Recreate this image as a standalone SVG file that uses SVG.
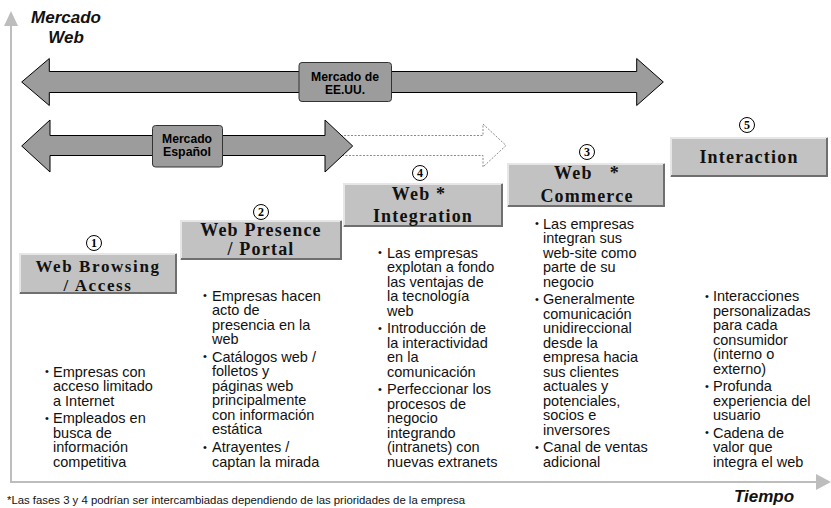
<svg xmlns="http://www.w3.org/2000/svg" width="831" height="508" viewBox="0 0 831 508">
<style>
.axis{stroke:#bdbdbd;stroke-width:2;fill:none}
.axh{fill:#bdbdbd}
.ttl{font-family:"Liberation Sans",Arial,sans-serif;font-weight:bold;font-style:italic;font-size:17px;fill:#111}
.arr{fill:#9c9c9c;stroke:#000;stroke-width:1}
.lbl{fill:#9c9c9c;stroke:#333;stroke-width:1}
.lt{font-family:"Liberation Sans",Arial,sans-serif;font-weight:bold;font-size:12px;fill:#000;text-anchor:middle}
.dot{fill:#fff;stroke:#8a8a8a;stroke-width:1;stroke-dasharray:2,1.5}
.bx{fill:#c2c2c2}
.hi{fill:none;stroke:#e6e6e6;stroke-width:2}
.sh{fill:none;stroke:#6f6f6f;stroke-width:2}
.bt{font-family:"Liberation Serif","Times New Roman",serif;font-weight:bold;font-size:18px;letter-spacing:1.2px;fill:#111;text-anchor:middle;white-space:pre}
.bt1{font-size:17px;letter-spacing:1.6px}
.nc{fill:#fff;stroke:#000;stroke-width:1}
.nt{font-family:"Liberation Serif","Times New Roman",serif;font-weight:bold;font-size:12px;fill:#000;text-anchor:middle}
.tx{font-family:"Liberation Sans",Arial,sans-serif;font-size:14.5px;fill:#111}
.bu{font-family:"Liberation Sans",Arial,sans-serif;font-size:11px;fill:#111}
.fn{font-family:"Liberation Sans",Arial,sans-serif;font-size:10.5px;fill:#111}
</style>

<g id="axes">
  <line class="axis" x1="11" y1="24" x2="11" y2="483"/>
  <polygon class="axh" points="11,11 4,26 18,26"/>
  <line class="axis" x1="10" y1="482" x2="816" y2="482"/>
  <polygon class="axh" points="816,474 831,482 816,490"/>
  <text class="ttl" x="66" y="23" text-anchor="middle">Mercado</text>
  <text class="ttl" x="66" y="43" text-anchor="middle">Web</text>
  <text class="ttl" x="764" y="502" text-anchor="middle">Tiempo</text>
</g>

<g id="connectors">
  <g id="arrow-usa">
    <polygon class="arr" points="21.7,82 49.3,58.5 49.3,71.5 636.7,71.5 636.7,58.5 663.3,82 636.7,105.5 636.7,92.5 49.3,92.5 49.3,105.5"/>
    <rect class="lbl" x="299" y="62.5" width="92.5" height="39" rx="3"/>
    <text class="lt" x="345" y="81" textLength="68" lengthAdjust="spacingAndGlyphs">Mercado de</text>
    <text class="lt" x="345" y="93.5">EE.UU.</text>
  </g>
  <g id="arrow-future">
    <polygon class="dot" points="330,135.5 483,135.5 483,124 506,145.5 483,167 483,155.5 330,155.5"/>
  </g>
  <g id="arrow-spain">
    <polygon class="arr" points="21.7,146 50,120 50,135.5 325,135.5 325,120 352.7,146 325,172 325,155.5 50,155.5 50,172"/>
    <rect class="lbl" x="152.5" y="125.5" width="70" height="41.5" rx="3"/>
    <text class="lt" x="187" y="143" textLength="50" lengthAdjust="spacingAndGlyphs">Mercado</text>
    <text class="lt" x="187" y="155.5" textLength="48" lengthAdjust="spacingAndGlyphs">Español</text>
  </g>
</g>

<g id="phase1">
  <circle class="nc" cx="94" cy="243" r="7.5"/>
  <text class="nt" x="94" y="247.3">1</text>
  <rect class="bx" x="19" y="253" width="158" height="41"/>
  <path class="hi" d="M20,293 V254 H176"/>
  <path class="sh" d="M20,293 H176 V254"/>
  <text class="bt bt1" x="98" y="271.5">Web Browsing</text>
  <text class="bt bt1" x="98" y="290.5">/ Access</text>
</g>

<g id="phase2">
  <circle class="nc" cx="261" cy="212" r="7.5"/>
  <text class="nt" x="261" y="216.3">2</text>
  <rect class="bx" x="180" y="220" width="162" height="40"/>
  <path class="hi" d="M181,259 V221 H341"/>
  <path class="sh" d="M181,259 H341 V221"/>
  <text class="bt" x="261" y="236">Web Presence</text>
  <text class="bt" x="261" y="255">/ Portal</text>
</g>

<g id="phase4">
  <circle class="nc" cx="420" cy="173" r="7.5"/>
  <text class="nt" x="420" y="177.3">4</text>
  <rect class="bx" x="343" y="183" width="160" height="44"/>
  <path class="hi" d="M344,226 V184 H502"/>
  <path class="sh" d="M344,226 H502 V184"/>
  <text class="bt" x="419" y="199.5">Web *</text>
  <text class="bt" x="423" y="222">Integration</text>
</g>

<g id="phase3">
  <circle class="nc" cx="587" cy="152" r="7.5"/>
  <text class="nt" x="587" y="156.3">3</text>
  <rect class="bx" x="507" y="163" width="158" height="44"/>
  <path class="hi" d="M508,206 V164 H664"/>
  <path class="sh" d="M508,206 H664 V164"/>
  <text class="bt" x="587" y="178.5">Web   *</text>
  <text class="bt" x="587" y="201.5">Commerce</text>
</g>

<g id="phase5">
  <circle class="nc" cx="747" cy="125" r="7.5"/>
  <text class="nt" x="747" y="129.3">5</text>
  <rect class="bx" x="670" y="137" width="158" height="40"/>
  <path class="hi" d="M671,176 V138 H827"/>
  <path class="sh" d="M671,176 H827 V138"/>
  <text class="bt" x="749" y="163">Interaction</text>
</g>

<g id="text-col1" class="tx">
  <text class="bu" x="45" y="375">•</text>
  <text x="53" y="376.5">Empresas con</text>
  <text x="53" y="391">acceso limitado</text>
  <text x="53" y="405.5">a Internet</text>
  <text class="bu" x="45" y="421.5">•</text>
  <text x="53" y="423">Empleados en</text>
  <text x="53" y="437.5">busca de</text>
  <text x="53" y="452">información</text>
  <text x="53" y="466.5">competitiva</text>
</g>

<g id="text-col2" class="tx">
  <text class="bu" x="203" y="299">•</text>
  <text x="212" y="300.5">Empresas hacen</text>
  <text x="212" y="315">acto de</text>
  <text x="212" y="329.5">presencia en la</text>
  <text x="212" y="344">web</text>
  <text class="bu" x="203" y="360">•</text>
  <text x="212" y="361.5">Catálogos web /</text>
  <text x="212" y="376">folletos y</text>
  <text x="212" y="390.5">páginas web</text>
  <text x="212" y="405">principalmente</text>
  <text x="212" y="419.5">con información</text>
  <text x="212" y="434">estática</text>
  <text class="bu" x="203" y="450.5">•</text>
  <text x="212" y="452">Atrayentes /</text>
  <text x="212" y="466.5">captan la mirada</text>
</g>

<g id="text-col3" class="tx">
  <text class="bu" x="378" y="256">•</text>
  <text x="387" y="257.5">Las empresas</text>
  <text x="387" y="272">explotan a fondo</text>
  <text x="387" y="286.5">las ventajas de</text>
  <text x="387" y="301">la tecnología</text>
  <text x="387" y="315.5">web</text>
  <text class="bu" x="378" y="331.5">•</text>
  <text x="387" y="333">Introducción de</text>
  <text x="387" y="347.5">la interactividad</text>
  <text x="387" y="362">en la</text>
  <text x="387" y="376.5">comunicación</text>
  <text class="bu" x="378" y="392.5">•</text>
  <text x="387" y="394">Perfeccionar los</text>
  <text x="387" y="408.5">procesos de</text>
  <text x="387" y="423">negocio</text>
  <text x="387" y="437.5">integrando</text>
  <text x="387" y="452">(intranets) con</text>
  <text x="387" y="466.5">nuevas extranets</text>
</g>

<g id="text-col4" class="tx">
  <text class="bu" x="535" y="227">•</text>
  <text x="543" y="228.5">Las empresas</text>
  <text x="543" y="243">integran sus</text>
  <text x="543" y="257.5">web-site como</text>
  <text x="543" y="272">parte de su</text>
  <text x="543" y="286.5">negocio</text>
  <text class="bu" x="535" y="302.5">•</text>
  <text x="543" y="304">Generalmente</text>
  <text x="543" y="318.5">comunicación</text>
  <text x="543" y="333">unidireccional</text>
  <text x="543" y="347.5">desde la</text>
  <text x="543" y="362">empresa hacia</text>
  <text x="543" y="376.5">sus clientes</text>
  <text x="543" y="391">actuales y</text>
  <text x="543" y="405.5">potenciales,</text>
  <text x="543" y="420">socios e</text>
  <text x="543" y="434.5">inversores</text>
  <text class="bu" x="535" y="450.5">•</text>
  <text x="543" y="452">Canal de ventas</text>
  <text x="543" y="466.5">adicional</text>
</g>

<g id="text-col5" class="tx">
  <text class="bu" x="705" y="299.5">•</text>
  <text x="713" y="301">Interacciones</text>
  <text x="713" y="315.5">personalizadas</text>
  <text x="713" y="330">para cada</text>
  <text x="713" y="344.5">consumidor</text>
  <text x="713" y="359">(interno o</text>
  <text x="713" y="373.5">externo)</text>
  <text class="bu" x="705" y="389.5">•</text>
  <text x="713" y="391">Profunda</text>
  <text x="713" y="405.5">experiencia del</text>
  <text x="713" y="420">usuario</text>
  <text class="bu" x="705" y="436">•</text>
  <text x="713" y="437.5">Cadena de</text>
  <text x="713" y="452">valor que</text>
  <text x="713" y="466.5">integra el web</text>
</g>

<g id="footnote">
  <text class="fn" x="7" y="504" textLength="458" lengthAdjust="spacingAndGlyphs">*Las fases 3 y 4 podrían ser intercambiadas dependiendo de las prioridades de la empresa</text>
</g>
</svg>
